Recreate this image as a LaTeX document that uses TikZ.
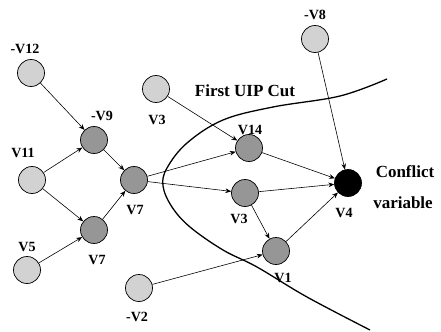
\documentclass[tikz,border=0pt]{standalone}
\usepackage{fontspec}
\setmainfont{Liberation Serif}
\usetikzlibrary{arrows.meta}
\begin{document}
\begin{tikzpicture}[x=0.03cm,y=-0.03cm,
  vnode/.style={circle,draw=black,line width=0.6pt,minimum size=27*0.03cm,inner sep=0pt},
  lightnode/.style={vnode,fill=gray!35},
  darknode/.style={vnode,fill=gray!82},
  conflictnode/.style={vnode,fill=black},
  lbl/.style={font=\bfseries\fontsize{12}{14}\selectfont,inner sep=0pt},
  big/.style={font=\bfseries\fontsize{14.5}{17}\selectfont,inner sep=0pt},
  edge/.style={-{Stealth[length=5pt,width=4pt]},line width=0.5pt}]
\useasboundingbox (0,0) rectangle (441,332);
% nodes
\node[lightnode] (v12) at (31,73) {};
\node[darknode] (v9) at (94,140) {};
\node[lightnode] (v11) at (32,180) {};
\node[darknode] (v7l) at (94,230) {};
\node[lightnode] (v5) at (27,270) {};
\node[darknode] (v7m) at (134,180) {};
\node[lightnode] (v2) at (139,288) {};
\node[lightnode] (v3t) at (156,89) {};
\node[darknode] (v14) at (249,148) {};
\node[darknode] (v3m) at (245,193) {};
\node[darknode] (v1) at (276,251) {};
\node[conflictnode] (v4) at (348,183) {};
\node[lightnode] (v8) at (315,39) {};
% labels
\node[lbl] (l12) at (25,49) {-V12};
\node[lbl] (l9) at (102,116) {-V9};
\node[lbl] (l11) at (23,153) {V11};
\node[lbl] (l3t) at (157,120) {V3};
\node[lbl] (l14) at (250,130) {V14};
\node[lbl] (l8) at (315,15) {-V8};
\node[lbl] (l7m) at (135,210) {V7};
\node[lbl] (l7l) at (97,260) {V7};
\node[lbl] (l5) at (27,247) {V5};
\node[lbl] (l2) at (137,317) {-V2};
\node[lbl] (l3m) at (239,219) {V3};
\node[lbl] (l1) at (283,278) {V1};
\node[lbl] (l4) at (344,213) {V4};
\node[big] (tc) at (405,172) {Conflict};
\node[big] (tv) at (403,203) {variable};
\node[big] (tf) at (245,91) {First UIP Cut};
% cut
\draw[line width=1.1pt] plot[smooth,tension=0.6] coordinates {(387,79) (340,96) (273,107) (223,120) (187,143) (167,168) (163,186) (172,207) (190,227) (223,250) (257,267) (307,297) (370,330)};
% edges
\draw[edge] (v12) -- (v9);
\draw[edge] (v11) -- (v9);
\draw[edge] (v11) -- (v7l);
\draw[edge] (v5) -- (v7l);
\draw[edge] (v9) -- (v7m);
\draw[edge] (v7l) -- (v7m);
\draw[edge] (v7m) -- (v14);
\draw[edge] (v7m) -- (v3m);
\draw[edge] (v3t) -- (v14);
\draw[edge] (v14) -- (v4);
\draw[edge] (v3m) -- (v4);
\draw[edge] (v3m) -- (v1);
\draw[edge] (v2) -- (v1);
\draw[edge] (v1) -- (v4);
\draw[edge] (v8) -- (v4);
\end{tikzpicture}
\end{document}
